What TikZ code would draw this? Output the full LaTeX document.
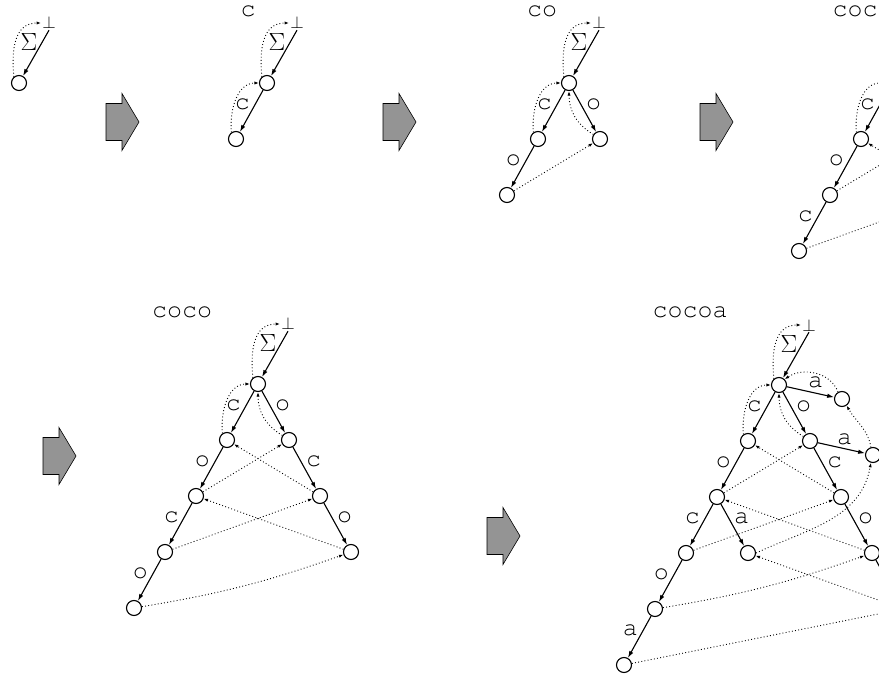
\documentclass[tikz,border=0pt]{standalone}
\usetikzlibrary{arrows.meta}
\newcommand{\cour}{\fontencoding{T1}\fontfamily{pcr}\fontsize{25}{28}\selectfont}
\tikzset{
  state/.style={circle, draw, line width=1.1pt, minimum size=15pt, inner sep=0pt},
  trans/.style={-{Latex[length=7pt,width=4.5pt]}, line width=1.1pt},
  slink/.style={-{Latex[length=4.5pt,width=3.2pt]}, line width=0.9pt, dash pattern=on 0.9pt off 2.3pt},
  lbl/.style={font=\cour, inner sep=1pt},
  word/.style={font=\cour, inner sep=0pt},
  pics/bigarrow/.style={code={
    \draw[fill=black!42, line width=0.6pt] (0,-18.5) -- (16,-18.5) -- (16,-28.5) -- (33,0)
      -- (16,28.5) -- (16,18.5) -- (0,18.5) -- cycle;}}
}
% root with bottom node and Sigma edge
\newcommand{\rootpart}[1]{%
  \node[state] (r#1) at (0,0) {};
  \node[inner sep=1pt, font=\fontsize{17}{19}\selectfont] (b#1) at (30,60) {$\bot$};
  \node[inner sep=0pt, font=\fontsize{27}{29}\selectfont] (s#1) at (10,41) {$\Sigma$};
  \draw[trans] (b#1.south) -- (r#1);
  \draw[slink] (r#1.130) to[out=95,in=180,looseness=1.15] (b#1.west);
}
\begin{document}
\begin{tikzpicture}[x=1pt,y=1pt]
\clip (0,0) rectangle (879,-679);

% words
\node[word] (w2) at (248,-11) {c};
\node[word] (w3) at (542,-11) {co};
\node[word] (w4) at (855,-11) {coc};
\node[word] (w5) at (182,-312) {coco};
\node[word] (w6) at (690,-312) {cocoa};

% block arrows
\pic at (106,-122) {bigarrow};
\pic at (383,-122) {bigarrow};
\pic at (700,-122) {bigarrow};
\pic at (43,-456) {bigarrow};
\pic at (487,-536) {bigarrow};

% panel 1
\begin{scope}[shift={(19,-83)}]
  \rootpart{1}
\end{scope}

% panel 2
\begin{scope}[shift={(267,-83)}]
  \rootpart{2}
  \node[state] (c2) at (-31,-56) {};
  \draw[trans] (r2) -- node[lbl, above left] {c} (c2);
  \draw[slink] (c2.125) to[out=95,in=180] (r2.west);
\end{scope}

% panel 3
\begin{scope}[shift={(569,-83)}]
  \rootpart{3}
  \node[state] (c3) at (-31,-56) {};
  \node[state] (o3) at (31,-56) {};
  \node[state] (co3) at (-62,-112) {};
  \draw[trans] (r3) -- node[lbl, above left] {c} (c3);
  \draw[trans] (r3) -- node[lbl, above right] {o} (o3);
  \draw[trans] (c3) -- node[lbl, above left] {o} (co3);
  \draw[slink] (c3.125) to[out=95,in=180] (r3.west);
  \draw[slink] (o3.145) to[out=150,in=-90] (r3.south);
  \draw[slink] (co3) -- (o3);
\end{scope}

% panel 4
\begin{scope}[shift={(892,-83)}]
  \rootpart{4}
  \node[state] (c4) at (-31,-56) {};
  \node[state] (o4) at (31,-56) {};
  \node[state] (co4) at (-62,-112) {};
  \node[state] (oc4) at (62,-112) {};
  \node[state] (coc4) at (-93,-168) {};
  \draw[trans] (r4) -- node[lbl, above left] {c} (c4);
  \draw[trans] (r4) -- node[lbl, above right] {o} (o4);
  \draw[trans] (c4) -- node[lbl, above left] {o} (co4);
  \draw[trans] (o4) -- node[lbl, above right] {c} (oc4);
  \draw[trans] (co4) -- node[lbl, above left] {c} (coc4);
  \draw[slink] (c4.125) to[out=95,in=180] (r4.west);
  \draw[slink] (o4.145) to[out=150,in=-90] (r4.south);
  \draw[slink] (co4) -- (o4);
  \draw[slink] (oc4) -- (c4);
  \draw[slink] (coc4) -- (oc4);
\end{scope}

% panel 5
\begin{scope}[shift={(258,-384)}]
  \rootpart{5}
  \node[state] (c5) at (-31,-56) {};
  \node[state] (o5) at (31,-56) {};
  \node[state] (co5) at (-62,-112) {};
  \node[state] (oc5) at (62,-112) {};
  \node[state] (coc5) at (-93,-168) {};
  \node[state] (oco5) at (93,-168) {};
  \node[state] (coco5) at (-124,-224) {};
  \draw[trans] (r5) -- node[lbl, above left] {c} (c5);
  \draw[trans] (r5) -- node[lbl, above right] {o} (o5);
  \draw[trans] (c5) -- node[lbl, above left] {o} (co5);
  \draw[trans] (o5) -- node[lbl, above right] {c} (oc5);
  \draw[trans] (co5) -- node[lbl, above left] {c} (coc5);
  \draw[trans] (oc5) -- node[lbl, above right] {o} (oco5);
  \draw[trans] (coc5) -- node[lbl, above left] {o} (coco5);
  \draw[slink] (c5.125) to[out=95,in=180] (r5.west);
  \draw[slink] (o5.145) to[out=150,in=-90] (r5.south);
  \draw[slink] (co5) -- (o5);
  \draw[slink] (oc5) -- (c5);
  \draw[slink] (coc5) -- (oc5);
  \draw[slink] (oco5) -- (co5);
  \draw[slink] (coco5) to[bend right=5] (oco5);
\end{scope}

% panel 6
\begin{scope}[shift={(779,-385)}]
  \rootpart{6}
  \node[state] (a6) at (63,-14) {};
  \node[state] (c6) at (-31,-56) {};
  \node[state] (o6) at (31,-56) {};
  \node[state] (oa6) at (94,-70) {};
  \node[state] (co6) at (-62,-112) {};
  \node[state] (oc6) at (62,-112) {};
  \node[state] (coc6) at (-93,-168) {};
  \node[state] (coa6) at (-31,-168) {};
  \node[state] (oco6) at (93,-168) {};
  \node[state] (coco6) at (-124,-224) {};
  \node[state] (ocoa6) at (124,-224) {};
  \node[state] (cocoa6) at (-155,-280) {};
  \draw[trans] (r6) -- node[lbl, above=3pt, xshift=5pt] {a} (a6);
  \draw[trans] (r6) -- node[lbl, above left] {c} (c6);
  \draw[trans] (r6) -- node[lbl, above right] {o} (o6);
  \draw[trans] (o6) -- node[lbl, above=2pt, xshift=3pt] {a} (oa6);
  \draw[trans] (o6) -- node[lbl, above right] {c} (oc6);
  \draw[trans] (c6) -- node[lbl, above left] {o} (co6);
  \draw[trans] (co6) -- node[lbl, above left] {c} (coc6);
  \draw[trans] (co6) -- node[lbl, above right] {a} (coa6);
  \draw[trans] (oc6) -- node[lbl, above right] {o} (oco6);
  \draw[trans] (oco6) -- node[lbl, above right] {a} (ocoa6);
  \draw[trans] (coc6) -- node[lbl, above left] {o} (coco6);
  \draw[trans] (coco6) -- node[lbl, above left] {a} (cocoa6);
  \draw[slink] (c6.125) to[out=95,in=180] (r6.west);
  \draw[slink] (o6.145) to[out=150,in=-90] (r6.south);
  \draw[slink] (a6.120) to[out=110,in=35] (r6.45);
  \draw[slink] (oa6.105) to[out=100,in=-60] (a6.-55);
  \draw[slink] (co6) -- (o6);
  \draw[slink] (oc6) -- (c6);
  \draw[slink] (coa6.east) to[out=25,in=-100] (oa6.-105);
  \draw[slink] (coc6) -- (oc6);
  \draw[slink] (oco6) -- (co6);
  \draw[slink] (coco6) to[bend right=5] (oco6);
  \draw[slink] (ocoa6) -- (coa6);
  \draw[slink] (cocoa6) -- (ocoa6);
\end{scope}
\end{tikzpicture}
\end{document}
